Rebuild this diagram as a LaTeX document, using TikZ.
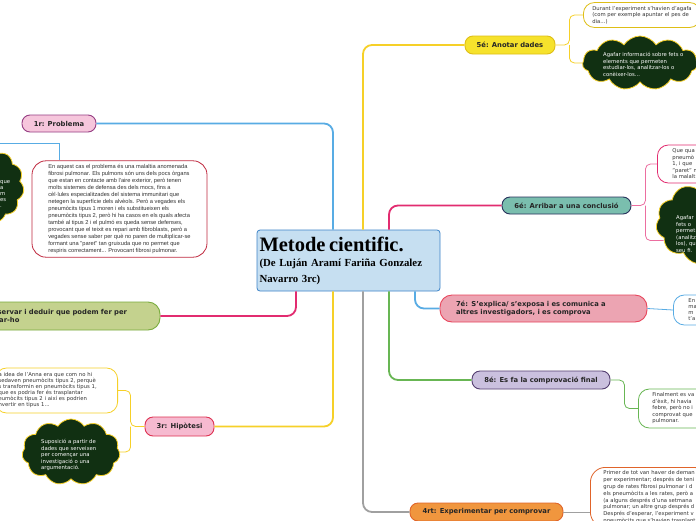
\documentclass[tikz,border=0pt]{standalone}
\usepackage{fontspec}
\setmainfont{DejaVu Sans}
\newfontfamily\titlefont{Liberation Serif}
\newfontfamily\notefont{Liberation Sans}
\usetikzlibrary{positioning,shapes.symbols}

\definecolor{ctitle}{RGB}{198,223,241}
\definecolor{ctitleb}{RGB}{62,132,200}
\definecolor{cblue}{RGB}{88,172,228}
\definecolor{cyel}{RGB}{246,208,40}
\definecolor{ccrim}{RGB}{226,44,112}
\definecolor{cpink}{RGB}{236,110,160}
\definecolor{cgrey}{RGB}{160,160,160}
\definecolor{cgreen}{RGB}{104,182,84}
\definecolor{cdark}{RGB}{17,48,18}
\definecolor{cprob}{RGB}{246,198,220}
\definecolor{cprobb}{RGB}{150,62,132}
\definecolor{cnote}{RGB}{192,42,64}
\definecolor{canot}{RGB}{246,226,44}
\definecolor{canotb}{RGB}{222,190,22}
\definecolor{cconc}{RGB}{122,190,174}
\definecolor{cconcb}{RGB}{40,50,92}
\definecolor{cexpl}{RGB}{236,164,178}
\definecolor{cexplb}{RGB}{232,70,92}
\definecolor{cfina}{RGB}{202,192,222}
\definecolor{cfinab}{RGB}{84,62,112}
\definecolor{chipo}{RGB}{246,186,208}
\definecolor{chipob}{RGB}{222,50,82}
\definecolor{cexpe}{RGB}{240,150,62}
\definecolor{cexpeb}{RGB}{224,100,42}
\definecolor{cobs}{RGB}{196,210,142}
\definecolor{cobsb}{RGB}{122,172,62}

\begin{document}
\begin{tikzpicture}[x=1pt, y=-1pt,
  topic/.style={draw, line width=0.9pt, rounded corners=8pt, minimum height=18pt, inner sep=2pt,
                font=\fontsize{6.8}{8.4}\selectfont\bfseries, text=black!85},
  note/.style={draw, line width=0.8pt, fill=white, rounded corners=11pt, align=left,
               inner xsep=13pt, inner ysep=3.5pt, font=\fontsize{5.3}{6.5}\selectfont, text=black!80},
  blob/.style={cloud, cloud puffs=11, cloud puff arc=115, aspect=1.6, draw=cyel, line width=0.8pt, fill=cdark},
  blobtext/.style={align=left, inner sep=0pt, anchor=west, text=white, font=\fontsize{5.3}{6.5}\selectfont},
  branch/.style={line width=1.8pt, rounded corners=9pt},
  twig/.style={line width=0.8pt, rounded corners=5pt}
]
\useasboundingbox (0,0) rectangle (696,520);
\clip (0,0) rectangle (696,520);
\fill[white] (0,0) rectangle (696,520);

\node[draw=ctitleb, fill=ctitle, line width=0.8pt, rounded corners=3pt, minimum width=183pt, minimum height=61pt,
      text width=178pt, inner xsep=2.5pt, align=left, font=\titlefont\bfseries\fontsize{10.8}{15.5}\selectfont]
      (title) at (348.5,260.5) {{\fontsize{20.5}{21}\selectfont Metode cientific.}\\(De Luján Aramí Fariña Gonzalez\\Navarro 3rc)};

\node[topic, fill=cprob, draw=cprobb, minimum width=74pt, minimum height=17pt] (prob) at (59,123.5) {1r: Problema};
\node[topic, fill=canot, draw=canotb, minimum width=90pt] (anot) at (510,45) {5é: Anotar dades};
\node[topic, fill=cconc, draw=cconcb, minimum width=129pt, minimum height=17pt] (conc) at (566.5,205.5) {6é: Arribar a una conclusió};
\node[topic, fill=cexpl, draw=cexplb, minimum width=207pt, minimum height=27pt, text width=175pt, inner xsep=16pt,
      align=left, rounded corners=12pt] (expl) at (543.5,308.5) {7é: S'explica/ s'exposa i es comunica a\\altres investigadors, i es comprova};
\node[topic, fill=cfina, draw=cfinab, minimum width=138pt] (fina) at (541,380) {8é: Es fa la comprovació final};
\node[topic, fill=chipo, draw=chipob, minimum width=69pt, minimum height=19pt] (hipo) at (179.5,426.5) {3r: Hipòtesi};
\node[topic, fill=cexpe, draw=cexpeb, minimum width=153pt] (expe) at (486.5,512) {4rt: Experimentar per comprovar};
\node[topic, fill=cobs, draw=cobsb, minimum width=195pt, minimum height=28pt, text width=151pt, inner xsep=22pt,
      align=left, rounded corners=12pt] (obs) at (62.5,316) {Observar i deduir que podem fer per\\curar-ho};

\node[note, draw=cnote, rounded corners=14pt, minimum width=175pt, inner xsep=10pt,
      font=\notefont\fontsize{5.7}{7}\selectfont] (probT) at (119.5,209) {En aquest cas el problema és una malaltia anomenada\\fibrosi pulmonar. Els pulmons són uns dels pocs òrgans\\que estan en contacte amb l'aire exterior, però tenen\\molts sistemes de defensa des dels mocs, fins a\\cèl·lules especialitzades del sistema immunitari que\\netegen la superfície dels alvèols. Però a vegades els\\pneumòcits tipus 1 moren i els substitueixen els\\pneumòcits tipus 2, però hi ha casos en els quals afecta\\també al tipus 2 i el pulmó es queda sense defenses,\\provocant que el teixit es repari amb fibroblasts, però a\\vegades sense saber per què no paren de multiplicar-se\\formant una "paret" tan gruixuda que no permet que\\respiris correctament... Provocant fibrosi pulmonar.};
\node[blob, minimum width=72pt, minimum height=74pt] (probC) at (-12,186) {};
\node[blobtext, font=\fontsize{5.3}{6}\selectfont] (probCt) at (0,194) {que\\a\\m\\es\\.};

\node[note, draw=canotb, anchor=west, inner xsep=9pt, font=\fontsize{5.3}{6.6}\selectfont] (anotT) at (583,15) {Durant l'experiment s'havien d'agafa\\(com per exemple apuntar el pes de\\dia...)};
\node[blob, minimum width=115pt, minimum height=54pt] (anotC) at (640,63) {};
\node[blobtext] (anotCt) at (603,64.5) {Agafar informació sobre fets o\\elements que permeten\\estudiar-los, analitzar-los o\\conèixer-los...};

\node[note, draw=ccrim, anchor=west, minimum height=38pt, inner xsep=15pt] (concT) at (657,164) {Que qua\\pneumò\\1, i que\\"paret" n\\la malalt};
\node[blob, minimum width=112pt, minimum height=84pt] (concC) at (712,223) {};
\node[blobtext] (concCt) at (676,234) {Agafar\\fets o\\permet\\(analitz\\los), qu\\seu fi.};

\node[note, draw=cblue, anchor=west, minimum height=30pt, inner xsep=15pt, font=\fontsize{5.3}{6}\selectfont] (explT) at (673,310) {En\\ma\\m\\t'a};

\node[note, draw=cgreen, anchor=west, minimum height=39pt, inner xsep=14pt] (finaT) at (638,408.5) {Finalment es va\\d'èxit, hi havia\\febre, però no i\\comprovat que\\pulmonar.};

\node[note, draw=cexpeb, anchor=north west, rounded corners=15pt,
      font=\fontsize{5.3}{6.8}\selectfont] (expeT) at (590,467) {Primer de tot van haver de deman\\per experimentar; després de teni\\grup de rates fibrosi pulmonar i d\\els pneumòcits a les rates, però a\\(a alguns després d'una setmana\\pulmonar; un altre grup després d\\Després d'esperar, l'experiment v\\pneumòcits que s'havien trasplant};

\node[note, draw=cyel, anchor=east, text width=116pt, inner xsep=3pt, minimum height=45pt, font=\fontsize{5.3}{6}\selectfont] (hipoT) at (118,390.5) {a idea de l'Anna era que com no hi\\sedaven pneumòcits tipus 2, perquè\\s transformin en pneumòcits tipus 1,\\ que es podria fer és trasplantar\\eumòcits tipus 2 i així es podrien\\nvertir en tipus 1...};
\node[blob, minimum width=98pt, minimum height=66pt] (hipoC) at (71,452) {};
\node[blobtext] (hipoCt) at (41,455) {Suposició a partir de\\dades que serveixen\\per començar una\\investigació o una\\argumentació.};

\draw[branch, cblue] ([xshift=-15.5pt]title.north) |- (prob.east);
\draw[branch, cyel] ([xshift=14.5pt]title.north) |- (anot.west);
\draw[branch, ccrim] ([xshift=40.5pt]title.north) |- (conc.west);
\draw[branch, ccrim] ([xshift=-52.5pt]title.south) |- (obs.east);
\draw[branch, cyel] ([xshift=-15.5pt]title.south) |- (hipo.east);
\draw[branch, cgrey] ([xshift=14.5pt]title.south) |- (expe.west);
\draw[branch, cgreen] ([xshift=40.5pt]title.south) |- (fina.west);
\draw[branch, cblue] ([xshift=66.5pt]title.south) |- (expl.west);

\coordinate (j1) at ([yshift=-11pt]prob.south);
\draw[twig, cblue] (j1) -- (j1 |- probT.north);
\draw[twig, cblue] (j1) -- (j1 -| probC.north);
\coordinate (j5) at ([xshift=14pt]anot.east);
\draw[twig, cyel] (anot.east) -- (j5) |- (anotT.west);
\draw[twig, cyel] (j5) |- (anotC.west);
\coordinate (j6) at ([xshift=14pt]conc.east);
\draw[twig, cpink] (conc.east) -- (j6) |- (concT.west);
\draw[twig, cpink] (j6) |- (concC.200);
\draw[twig, cblue] (expl.east) -- (explT.west);
\coordinate (j8) at ([xshift=14pt]fina.east);
\draw[twig, cgreen] (fina.east) -- (j8) |- (finaT.west);
\draw[twig, cgrey] (expe.east) -- (expe.east -| expeT.west);
\coordinate (j3) at ([xshift=-14pt]hipo.west);
\draw[twig, cyel] (hipo.west) -- (j3) |- (hipoT.east);
\draw[twig, cyel] (j3) |- (hipoC.east);
\end{tikzpicture}
\end{document}
